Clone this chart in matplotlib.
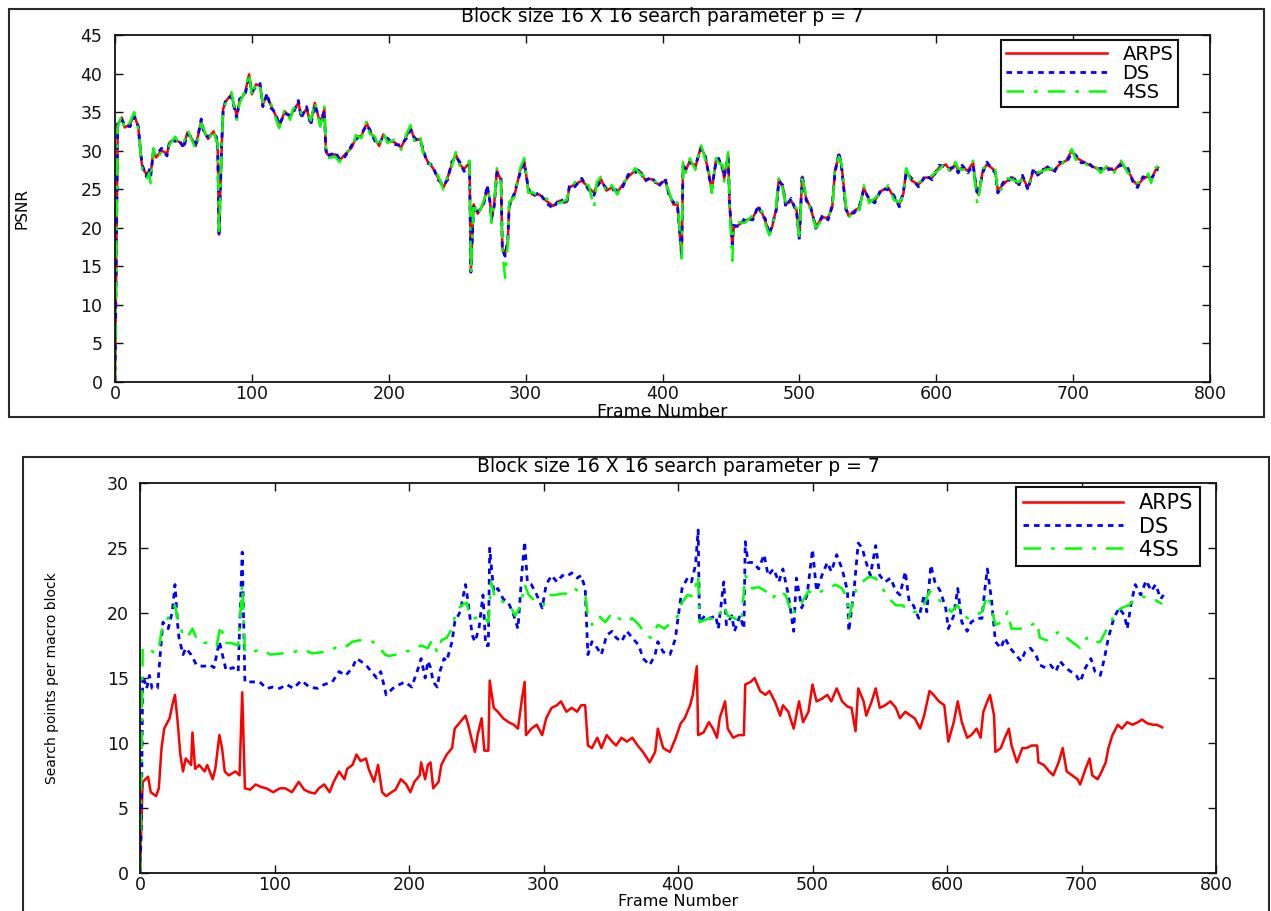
import matplotlib
matplotlib.use('Agg')
import matplotlib.pyplot as plt
from matplotlib.patches import Rectangle

plt.rcParams['font.family'] = ['DejaVu Sans']

W, H = 1271, 911

title_txt = 'Block size 16 X 16 search parameter p = 7'
series_names = ['ARPS', 'DS', '4SS']
x_ticks = [0, 100, 200, 300, 400, 500, 600, 700, 800]
psnr_ticks = [0, 5, 10, 15, 20, 25, 30, 35, 40, 45]
sp_ticks = [0, 5, 10, 15, 20, 25, 30]

# ---- PSNR per frame (top panel) ----
frames_top = [0, 1, 2, 5, 7, 11, 14, 17, 18, 19,
              20, 23, 25, 26, 28, 30, 34, 38, 40, 44,
              47, 50, 53, 57, 59, 63, 65, 68, 72, 74,
              75, 76, 78, 79, 81, 85, 89, 91, 95, 98,
              100, 103, 106, 108, 111, 114, 117, 120, 124, 128,
              130, 134, 136, 140, 143, 146, 150, 153, 154, 155,
              161, 164, 168, 173, 176, 180, 184, 186, 190, 193,
              196, 199, 204, 209, 213, 216, 219, 223, 225, 228,
              232, 236, 240, 243, 246, 249, 252, 255, 259, 260,
              262, 265, 269, 272, 274, 275, 277, 279, 282, 283,
              285, 287, 288, 292, 296, 299, 302, 305, 310, 315,
              320, 325, 330, 332, 336, 341, 346, 350, 352, 355,
              359, 363, 367, 371, 375, 380, 383, 387, 392, 397,
              402, 405, 408, 411, 414, 415, 417, 420, 424, 428,
              431, 434, 436, 439, 441, 444, 445, 448, 449, 451,
              452, 456, 460, 466, 470, 473, 475, 478, 480, 483,
              485, 488, 490, 494, 498, 500, 502, 505, 508, 512,
              517, 521, 524, 526, 529, 531, 534, 536, 540, 544,
              547, 551, 555, 560, 565, 569, 573, 576, 578, 582,
              587, 592, 597, 602, 607, 610, 614, 616, 619, 623,
              627, 628, 630, 631, 634, 637, 643, 645, 649, 652,
              656, 660, 663, 667, 671, 675, 680, 686, 690, 695,
              699, 702, 706, 711, 716, 720, 725, 730, 735, 740,
              744, 747, 751, 755, 757, 760, 762]

psnr_arps = [0, 17.0, 33.4, 34.3, 33.0, 33.4, 34.7, 33.0, 31.3, 29.1,
             27.8, 26.9, 27.4, 26.8, 30.0, 29.1, 30.0, 29.6, 31.1, 31.5,
             31.1, 30.6, 32.4, 31.3, 30.6, 33.8, 32.5, 31.5, 32.5, 31.5,
             30.8, 19.1, 30.8, 35.4, 36.4, 37.3, 34.5, 36.4, 37.5, 39.9,
             37.3, 38.6, 38.4, 36.0, 37.1, 35.8, 34.7, 33.1, 35.1, 34.3,
             35.1, 36.2, 34.5, 35.4, 33.6, 36.2, 33.4, 35.4, 30.4, 29.5,
             29.5, 28.7, 29.5, 30.4, 31.7, 31.9, 33.6, 32.5, 31.5, 30.6,
             32.1, 31.3, 31.1, 30.4, 31.9, 33.0, 31.3, 31.5, 30.0, 28.7,
             27.8, 26.5, 25.2, 26.5, 28.2, 29.5, 28.2, 27.6, 28.4, 14.4,
             23.0, 21.8, 23.0, 25.2, 23.5, 20.9, 23.0, 27.4, 26.1, 17.4,
             16.5, 18.2, 23.0, 24.3, 27.4, 28.7, 24.8, 24.3, 24.3, 23.5,
             22.8, 23.5, 23.3, 25.2, 25.6, 26.1, 25.2, 24.5, 25.6, 26.3,
             24.8, 25.2, 24.6, 25.6, 26.6, 27.4, 27.4, 26.3, 26.3, 25.6,
             26.1, 24.3, 23.0, 23.0, 16.1, 28.2, 27.4, 28.7, 27.8, 30.5,
             29.3, 26.9, 24.8, 28.7, 28.7, 27.8, 26.3, 29.5, 23.0, 17.5,
             20.0, 20.4, 20.9, 21.3, 22.6, 21.8, 20.9, 19.4, 20.0, 22.4,
             26.3, 25.2, 23.0, 23.5, 22.2, 18.7, 26.6, 23.8, 22.6, 20.2,
             21.3, 21.3, 22.6, 27.4, 29.5, 27.8, 22.6, 21.5, 22.2, 22.6,
             25.2, 23.5, 23.5, 24.8, 25.2, 23.9, 23.0, 24.4, 27.4, 26.1,
             25.6, 26.5, 26.5, 27.8, 28.2, 27.4, 28.2, 27.4, 27.8, 27.4,
             28.4, 26.5, 24.5, 24.3, 27.4, 28.2, 27.4, 24.8, 25.6, 26.1,
             26.5, 25.6, 26.5, 25.2, 27.4, 26.9, 27.8, 27.4, 28.2, 28.7,
             30.0, 29.1, 28.7, 28.2, 27.8, 27.4, 27.8, 27.4, 28.4, 27.4,
             26.1, 25.5, 26.3, 26.7, 26.1, 27.4, 27.8]

psnr_ds = [0, 16.8, 33.9, 34.0, 33.3, 33.1, 34.4, 33.2, 31.0, 29.4,
           28.1, 26.6, 27.7, 26.5, 29.7, 29.4, 30.3, 29.3, 31.4, 31.2,
           31.4, 30.3, 32.1, 31.6, 30.4, 34.1, 32.2, 31.8, 32.2, 31.8,
           30.5, 18.9, 31.1, 35.1, 36.7, 37.0, 34.2, 36.7, 37.2, 39.5,
           37.6, 38.3, 38.7, 35.7, 37.4, 35.5, 35.0, 33.4, 34.8, 34.6,
           34.8, 36.5, 34.2, 35.7, 33.3, 35.9, 33.7, 35.1, 30.1, 29.2,
           29.8, 28.9, 29.2, 30.7, 31.4, 32.2, 33.3, 32.8, 31.2, 30.9,
           31.8, 31.6, 30.8, 30.7, 31.6, 32.7, 31.6, 31.2, 30.3, 28.4,
           28.1, 26.2, 25.5, 26.2, 28.5, 29.2, 28.5, 27.3, 28.1, 14.2,
           22.7, 22.1, 22.7, 25.5, 23.2, 21.2, 22.7, 27.1, 26.4, 17.1,
           16.3, 18.5, 22.7, 24.6, 27.1, 28.4, 25.1, 24.0, 24.6, 23.2,
           22.5, 23.8, 23.0, 25.5, 25.3, 26.4, 24.9, 24.2, 25.3, 26.0,
           25.1, 24.9, 24.9, 25.3, 26.9, 27.1, 27.7, 26.0, 26.6, 25.3,
           26.4, 24.0, 23.3, 22.7, 16.3, 27.9, 27.7, 28.4, 28.1, 30.2,
           29.6, 26.6, 25.1, 28.4, 29.0, 27.5, 26.6, 29.2, 23.3, 17.8,
           20.3, 20.1, 21.2, 21.0, 22.9, 21.5, 21.2, 19.1, 20.3, 22.1,
           26.0, 25.5, 22.7, 23.8, 21.9, 18.4, 26.9, 23.5, 22.9, 19.9,
           21.6, 21.0, 22.9, 27.1, 29.8, 27.5, 22.3, 21.8, 21.9, 22.9,
           24.9, 23.8, 23.2, 25.1, 24.9, 24.2, 22.7, 24.7, 27.1, 26.4,
           25.3, 26.8, 26.2, 28.1, 27.9, 27.7, 27.9, 27.1, 28.1, 27.1,
           28.1, 26.8, 24.2, 24.6, 27.1, 28.5, 27.1, 24.5, 25.9, 25.8,
           26.8, 25.3, 26.8, 24.9, 27.7, 26.6, 28.1, 27.1, 28.5, 28.4,
           29.7, 29.4, 28.4, 28.5, 27.5, 27.7, 27.5, 27.7, 28.1, 27.7,
           25.8, 25.2, 26.6, 26.4, 26.4, 27.1, 27.6]

psnr_4ss = [0, 17.2, 33.1, 34.6, 32.7, 33.7, 35.0, 32.8, 31.6, 28.9,
            27.5, 26.3, 27.1, 25.8, 30.3, 28.8, 29.8, 29.9, 30.8, 31.8,
            30.8, 30.9, 32.7, 31.0, 30.2, 33.5, 32.8, 31.2, 32.8, 31.2,
            31.1, 19.0, 30.5, 35.7, 36.1, 37.6, 34.0, 36.1, 37.8, 40.1,
            37.0, 38.9, 38.1, 36.3, 36.8, 36.1, 34.4, 32.9, 35.4, 34.0,
            35.4, 35.9, 34.8, 35.1, 33.9, 36.4, 33.1, 35.7, 30.7, 29.0,
            29.2, 28.5, 29.8, 30.1, 32.0, 31.6, 33.9, 32.2, 31.8, 30.3,
            32.4, 31.0, 31.4, 30.1, 32.2, 33.3, 31.0, 31.8, 29.7, 29.0,
            27.5, 26.8, 24.9, 26.8, 27.9, 29.8, 27.9, 27.9, 28.7, 14.0,
            23.3, 21.5, 23.3, 24.9, 23.8, 20.6, 23.3, 27.7, 25.8, 17.0,
            13.5, 18.0, 23.3, 24.0, 27.7, 29.0, 24.5, 24.6, 24.0, 23.8,
            23.1, 23.2, 23.6, 24.9, 25.9, 25.8, 25.5, 22.6, 25.9, 26.6,
            24.5, 25.5, 24.3, 25.9, 26.3, 27.7, 27.1, 26.6, 26.0, 25.9,
            25.8, 24.6, 22.7, 23.3, 16.0, 28.5, 27.1, 29.0, 27.5, 30.8,
            29.0, 27.2, 24.5, 29.0, 28.4, 28.1, 26.0, 29.8, 22.7, 15.7,
            19.7, 20.7, 20.6, 21.6, 22.3, 22.1, 20.6, 19.0, 19.7, 22.7,
            26.6, 24.9, 23.3, 23.2, 22.5, 18.3, 26.3, 24.1, 22.3, 20.0,
            21.0, 21.6, 22.3, 27.7, 29.2, 28.1, 22.9, 21.2, 22.5, 22.3,
            25.5, 23.2, 23.8, 24.5, 25.5, 23.6, 23.3, 24.1, 27.7, 25.8,
            25.9, 26.2, 26.8, 27.5, 28.5, 27.1, 28.5, 27.7, 27.5, 27.7,
            28.7, 26.2, 23.0, 24.0, 27.7, 27.9, 27.7, 24.5, 25.3, 26.4,
            26.2, 25.9, 26.2, 25.5, 27.1, 27.2, 27.5, 27.7, 27.9, 29.0,
            30.2, 28.8, 29.0, 27.9, 28.1, 27.1, 28.1, 27.1, 28.7, 27.1,
            26.4, 25.8, 26.0, 27.0, 25.8, 27.7, 28.0]

# ---- search points per macro block (bottom panel) ----
frames_arps = [0, 1, 2, 6, 8, 12, 14, 16, 18, 22,
               24, 26, 28, 30, 32, 34, 38, 39, 41, 44,
               48, 50, 54, 56, 59, 61, 63, 66, 71, 74,
               76, 78, 82, 86, 90, 94, 99, 104, 108, 113,
               118, 122, 126, 130, 133, 137, 141, 144, 148, 152,
               154, 158, 161, 164, 168, 170, 174, 177, 180, 183,
               187, 190, 194, 198, 201, 204, 208, 209, 212, 214,
               216, 218, 222, 224, 228, 232, 234, 238, 242, 244,
               247, 249, 251, 254, 256, 259, 260, 263, 266, 270,
               274, 278, 281, 284, 286, 287, 291, 295, 299, 302,
               306, 310, 313, 317, 321, 325, 328, 331, 333, 336,
               340, 343, 347, 351, 354, 358, 362, 366, 370, 374,
               379, 383, 385, 389, 394, 398, 402, 405, 409, 411,
               414, 415, 419, 423, 426, 429, 431, 435, 437, 441,
               445, 449, 450, 454, 457, 461, 465, 468, 472, 476,
               478, 482, 486, 490, 493, 497, 500, 503, 507, 511,
               514, 518, 522, 526, 529, 532, 534, 538, 540, 544,
               547, 550, 554, 558, 562, 565, 569, 573, 576, 580,
               583, 587, 590, 594, 598, 601, 605, 608, 611, 615,
               618, 622, 625, 627, 630, 632, 635, 636, 640, 643,
               646, 648, 652, 656, 659, 663, 667, 668, 672, 676,
               679, 683, 686, 689, 693, 697, 699, 703, 706, 708,
               712, 715, 718, 720, 723, 727, 730, 734, 738, 742,
               745, 749, 753, 756, 760]
sp_arps = [0, 3.7, 7.0, 7.4, 6.2, 5.9, 6.5, 9.6, 11.1, 11.9,
           12.9, 13.7, 11.6, 9.1, 7.8, 8.8, 8.3, 10.8, 8.0, 8.3,
           7.8, 8.3, 7.2, 8.0, 10.6, 9.6, 7.8, 7.5, 7.8, 7.5,
           13.9, 6.5, 6.4, 6.8, 6.6, 6.5, 6.2, 6.5, 6.5, 6.2,
           7.0, 6.4, 6.2, 6.1, 6.5, 6.8, 6.2, 7.0, 7.8, 7.2,
           8.0, 8.3, 9.1, 8.6, 8.8, 8.0, 7.0, 8.3, 6.2, 5.9,
           6.2, 6.4, 7.2, 6.8, 6.2, 7.0, 7.5, 8.5, 7.2, 8.3,
           8.5, 6.5, 7.0, 8.3, 9.1, 9.6, 11.1, 11.6, 12.1, 11.4,
           10.1, 9.3, 10.6, 11.9, 9.4, 9.4, 14.8, 12.7, 12.4, 11.9,
           11.6, 11.4, 11.1, 13.4, 14.7, 10.6, 11.1, 11.4, 10.6, 11.9,
           12.7, 12.9, 13.2, 12.4, 12.7, 12.4, 12.9, 12.9, 9.8, 9.6,
           10.4, 9.6, 10.6, 10.1, 9.8, 10.4, 10.1, 10.4, 9.8, 9.3,
           8.5, 9.3, 11.1, 9.6, 9.3, 10.3, 11.5, 11.9, 12.9, 13.7,
           15.9, 10.6, 10.8, 11.6, 11.1, 10.4, 11.9, 13.2, 11.1, 10.4,
           10.6, 10.6, 14.5, 14.7, 15.0, 14.0, 13.7, 14.0, 13.2, 12.1,
           12.9, 12.4, 11.1, 13.2, 11.6, 12.4, 14.5, 13.2, 13.4, 13.7,
           13.2, 14.2, 13.2, 12.8, 12.7, 10.9, 14.2, 13.2, 12.1, 13.2,
           14.2, 12.7, 12.9, 13.2, 12.7, 11.9, 12.4, 12.1, 11.9, 11.1,
           12.1, 14.0, 13.7, 13.2, 12.9, 10.1, 11.6, 13.2, 11.6, 10.4,
           10.6, 11.1, 10.4, 12.4, 13.2, 13.7, 12.1, 9.3, 9.6, 10.4,
           11.1, 9.8, 8.5, 9.6, 9.6, 9.8, 9.8, 8.5, 8.3, 7.8,
           7.5, 8.5, 9.6, 7.8, 7.5, 7.2, 6.8, 8.0, 8.8, 7.5,
           7.2, 7.8, 8.5, 9.6, 10.6, 11.4, 11.1, 11.6, 11.4, 11.6,
           11.8, 11.5, 11.4, 11.4, 11.2]

frames_ds = [0, 1, 2, 5, 7, 9, 13, 15, 17, 21,
             24, 26, 28, 29, 32, 34, 38, 42, 47, 52,
             55, 59, 62, 64, 69, 73, 76, 78, 83, 89,
             94, 99, 104, 109, 114, 120, 126, 132, 137, 143,
             148, 153, 158, 161, 164, 168, 172, 176, 179, 183,
             188, 193, 197, 202, 207, 209, 212, 214, 216, 218,
             221, 223, 226, 228, 232, 234, 238, 242, 244, 247,
             249, 252, 255, 257, 259, 260, 263, 266, 270, 274,
             278, 281, 284, 286, 288, 291, 295, 299, 302, 306,
             310, 314, 317, 321, 325, 328, 331, 333, 336, 340,
             343, 347, 351, 354, 358, 362, 366, 371, 374, 379,
             383, 385, 389, 394, 398, 400, 403, 407, 410, 413,
             415, 416, 420, 424, 428, 430, 434, 436, 440, 442,
             446, 449, 450, 452, 456, 460, 464, 467, 471, 475,
             478, 482, 486, 488, 492, 496, 500, 503, 507, 511,
             514, 518, 522, 526, 527, 531, 534, 537, 539, 543,
             547, 550, 554, 558, 562, 565, 569, 572, 575, 579,
             583, 585, 588, 591, 595, 599, 601, 605, 608, 611,
             615, 618, 622, 626, 628, 630, 633, 636, 640, 643,
             647, 651, 655, 658, 662, 666, 669, 673, 677, 681,
             684, 688, 692, 696, 699, 703, 707, 710, 714, 717,
             720, 724, 728, 732, 734, 737, 740, 744, 748, 752,
             755, 759, 761]
sp_ds = [0, 3.7, 15.2, 14.2, 15.2, 14.2, 14.2, 16.8, 19.3, 18.8,
         20.1, 22.2, 19.1, 18.1, 16.8, 17.3, 16.8, 16.0, 15.9, 16.0,
         15.8, 17.8, 16.5, 15.6, 15.8, 15.5, 24.7, 14.7, 14.7, 14.7,
         14.2, 14.3, 14.2, 14.5, 14.2, 14.8, 14.3, 14.2, 14.5, 14.7,
         15.5, 15.2, 15.8, 16.5, 16.3, 16.0, 15.5, 15.0, 15.5, 13.7,
         14.2, 14.5, 14.7, 14.3, 15.8, 16.5, 15.0, 16.3, 15.8, 14.7,
         14.3, 15.5, 16.5, 16.3, 17.8, 19.3, 20.1, 22.2, 20.8, 18.3,
         17.8, 18.8, 21.4, 17.5, 17.5, 25.0, 21.6, 21.9, 21.1, 20.8,
         19.8, 18.8, 23.2, 25.5, 22.4, 22.2, 21.4, 20.4, 22.2, 22.9,
         22.4, 22.9, 22.8, 23.1, 22.7, 22.9, 21.9, 16.8, 17.8, 17.3,
         16.8, 18.3, 18.6, 18.1, 17.8, 18.6, 18.1, 17.5, 16.5, 16.0,
         16.8, 17.8, 17.0, 16.8, 18.0, 19.6, 21.9, 22.7, 22.4, 23.7,
         26.4, 19.3, 19.8, 19.6, 19.8, 18.8, 22.4, 19.1, 19.8, 18.6,
         19.8, 18.8, 25.5, 23.9, 23.9, 23.4, 24.5, 22.9, 23.4, 22.4,
         23.4, 21.4, 18.6, 22.7, 20.4, 21.4, 24.9, 21.7, 22.9, 23.9,
         23.2, 24.5, 23.4, 21.7, 18.6, 21.9, 25.4, 25.0, 24.2, 22.9,
         25.2, 22.9, 22.4, 22.7, 21.7, 21.4, 23.2, 20.8, 20.6, 19.6,
         21.4, 20.1, 23.7, 22.4, 21.7, 20.4, 18.8, 19.8, 21.9, 19.3,
         18.6, 19.3, 19.6, 19.6, 21.7, 23.4, 21.1, 17.8, 17.3, 18.1,
         17.3, 16.8, 16.3, 17.0, 17.3, 16.8, 16.0, 15.8, 16.0, 15.5,
         16.3, 15.8, 15.5, 15.2, 14.7, 15.8, 16.5, 15.5, 15.2, 16.5,
         18.1, 19.6, 20.4, 19.8, 18.8, 20.8, 22.2, 21.4, 22.5, 21.7,
         22.2, 21.1, 21.4]

frames_4ss = [0, 1, 2, 6, 11, 14, 16, 19, 23, 26,
              28, 32, 35, 39, 43, 48, 53, 57, 60, 63,
              68, 73, 76, 78, 83, 90, 97, 106, 114, 121,
              128, 136, 143, 148, 153, 158, 163, 168, 173, 178,
              182, 185, 190, 195, 200, 205, 209, 214, 217, 221,
              224, 228, 232, 235, 239, 243, 245, 249, 253, 255,
              259, 261, 264, 268, 271, 275, 279, 283, 286, 289,
              292, 296, 300, 304, 309, 314, 319, 323, 327, 331,
              333, 336, 341, 346, 351, 356, 361, 366, 371, 376,
              380, 385, 390, 395, 400, 403, 407, 411, 415, 416,
              423, 429, 434, 437, 442, 447, 450, 455, 460, 465,
              470, 475, 480, 485, 488, 492, 497, 502, 507, 512,
              517, 522, 526, 527, 532, 537, 542, 547, 552, 557,
              562, 567, 572, 577, 582, 587, 591, 596, 599, 603,
              608, 612, 616, 621, 626, 630, 633, 636, 641, 645,
              648, 653, 658, 663, 667, 669, 674, 679, 684, 689,
              694, 699, 704, 709, 714, 718, 722, 725, 730, 735,
              740, 745, 750, 755, 760]
sp_4ss = [0, 8.0, 17.3, 17.3, 16.9, 17.3, 18.6, 19.3, 20.0, 20.6,
          19.6, 18.3, 18.1, 18.8, 17.8, 17.7, 17.8, 17.5, 19.1, 17.7,
          17.7, 17.5, 22.2, 17.0, 17.0, 17.2, 16.8, 16.9, 17.0, 17.2,
          16.9, 17.0, 17.2, 17.5, 17.4, 17.8, 17.9, 17.9, 17.8, 17.4,
          16.8, 16.7, 16.8, 17.0, 17.1, 17.3, 17.5, 17.3, 17.9, 17.0,
          17.9, 18.1, 18.8, 20.1, 20.6, 20.8, 19.8, 19.6, 19.8, 19.8,
          19.3, 22.4, 21.1, 21.0, 20.8, 20.6, 19.8, 20.6, 22.2, 21.4,
          21.1, 20.8, 20.6, 21.4, 21.4, 21.5, 21.5, 21.9, 21.6, 21.4,
          19.8, 19.1, 19.8, 19.3, 20.0, 19.6, 19.3, 19.6, 19.1, 18.3,
          18.1, 19.1, 18.8, 19.3, 19.8, 20.8, 21.4, 21.3, 22.9, 19.3,
          19.6, 19.5, 20.6, 19.8, 19.6, 19.3, 22.9, 21.9, 22.0, 21.7,
          21.1, 21.7, 21.4, 19.8, 20.6, 20.8, 21.7, 21.4, 21.7, 21.9,
          22.2, 21.9, 21.1, 19.6, 21.7, 22.4, 22.8, 22.7, 21.9, 21.1,
          20.6, 20.6, 20.1, 20.1, 20.4, 21.7, 21.4, 20.8, 20.6, 20.1,
          20.6, 19.8, 19.6, 19.8, 20.1, 21.4, 20.4, 19.1, 19.3, 20.1,
          18.8, 18.8, 18.8, 19.1, 19.3, 18.1, 17.9, 18.3, 18.6, 18.1,
          17.7, 17.3, 18.1, 17.7, 17.8, 18.6, 19.3, 20.1, 20.4, 20.6,
          21.1, 21.3, 21.1, 21.0, 20.7]


def px_axes(fig, left, top, right, bottom):
    # axes placed from pixel edges of the target image
    return fig.add_axes([left / W, 1 - bottom / H, (right - left) / W, (bottom - top) / H])


def draw_series(ax, xs, ys):
    ax.plot(xs[0], ys[0], color='#ff0000', lw=1.8, label=series_names[0])
    ax.plot(xs[1], ys[1], color='#0000ff', lw=2.0, ls=(0, (2, 1.8)), label=series_names[1])
    ax.plot(xs[2], ys[2], color='#00ff00', lw=1.8, ls=(0, (7, 4, 1.5, 4)), label=series_names[2])


def matlab_axes(ax, ymax, yticks, ypad):
    ax.set_xlim(0, 800)
    ax.set_ylim(0, ymax)
    ax.set_xticks(x_ticks)
    ax.set_yticks(yticks)
    ax.tick_params(direction='in', length=6, width=1, top=True, right=True,
                   labelsize=12.5, colors='#111111')
    ax.tick_params(axis='x', pad=2.5)
    ax.tick_params(axis='y', pad=ypad)
    for s in ax.spines.values():
        s.set_linewidth(1.3)
        s.set_color('#111111')


fig = plt.figure(figsize=(W / 100, H / 100), dpi=100)

# outer frames of the two panels
fig.add_artist(Rectangle((9 / W, 1 - 417 / H), 1255 / W, 408 / H, transform=fig.transFigure,
                         facecolor='white', edgecolor='#2a2a2a', lw=1.5, zorder=-1))
fig.add_artist(Rectangle((23 / W, -0.01), 1246 / W, (911 - 457) / H + 0.01, transform=fig.transFigure,
                         facecolor='white', edgecolor='#2a2a2a', lw=1.5, zorder=-1))

# top: PSNR
ax1 = px_axes(fig, 115, 35, 1210, 381.7)
draw_series(ax1, [frames_top, frames_top, frames_top], [psnr_arps, psnr_ds, psnr_4ss])
matlab_axes(ax1, 45, psnr_ticks, 9)
ax1.text(0.5, 1 + 18 / 346.7, title_txt, transform=ax1.transAxes, ha='center', va='center', fontsize=13.5)
ax1.set_xlabel('Frame Number', fontsize=12.5)
ax1.xaxis.set_label_coords(0.5, -(403 - 381.7) / 346.7)
ax1.set_ylabel('PSNR', fontsize=11)
ax1.yaxis.set_label_coords(-(115 - 29) / 1095, 0.5)
leg1 = ax1.legend(loc='upper right', bbox_to_anchor=(0.971, 0.986), fontsize=14, fancybox=False,
                  edgecolor='#111111', framealpha=1, borderaxespad=0, handlelength=5.2,
                  labelspacing=0.0, borderpad=0.25, handletextpad=0.8)
leg1.get_frame().set_linewidth(1.5)

# bottom: search points
ax2 = px_axes(fig, 140, 483.3, 1216, 872.7)
draw_series(ax2, [frames_arps, frames_ds, frames_4ss], [sp_arps, sp_ds, sp_4ss])
matlab_axes(ax2, 30, sp_ticks, 8)
ax2.text(0.5, 1 + 17 / 389.4, title_txt, transform=ax2.transAxes, ha='center', va='center', fontsize=13.5)
ax2.set_xlabel('Frame Number', fontsize=11.5)
ax2.xaxis.set_label_coords(0.5, -(894.5 - 872.7) / 389.4)
ax2.set_ylabel('Search points per macro block', fontsize=10)
ax2.yaxis.set_label_coords(-(140 - 59) / 1076, 0.5)
leg2 = ax2.legend(loc='upper right', bbox_to_anchor=(0.985, 0.99), fontsize=15, fancybox=False,
                  edgecolor='#111111', framealpha=1, borderaxespad=0, handlelength=4.8,
                  labelspacing=0.15, borderpad=0.3, handletextpad=0.8)
leg2.get_frame().set_linewidth(1.5)

fig.savefig('out.png', dpi=100)
